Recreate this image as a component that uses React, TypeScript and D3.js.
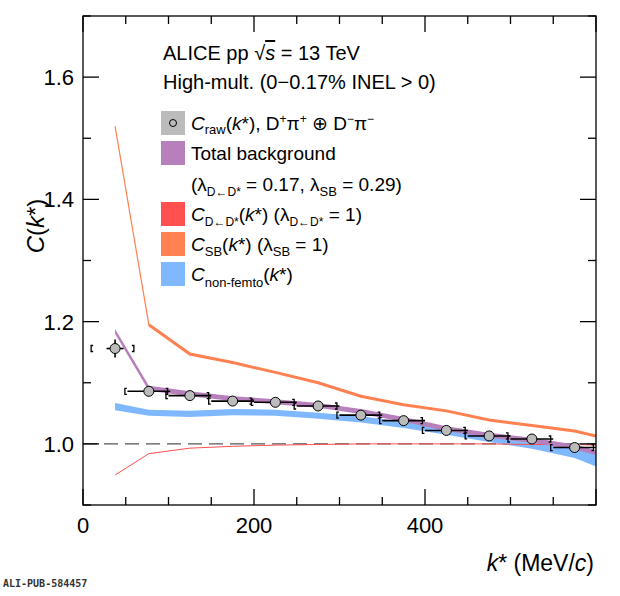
import React from "react";
import * as d3 from "d3";

const kData = [37.5, 77, 125, 175, 225, 275, 325, 375, 425, 475, 525, 575];
const cData = [1.156, 1.086, 1.079, 1.07, 1.068, 1.062, 1.047, 1.038, 1.022, 1.013, 1.008, 0.994];
const kCurve = [37.5, 77, 125, 175, 225, 275, 325, 375, 425, 475, 525, 575, 600];
const totalBkg = [1.184, 1.091, 1.082, 1.074, 1.069, 1.063, 1.053, 1.04, 1.025, 1.014, 1.006, 0.995, 0.986];
const sbCurve = [1.52, 1.195, 1.147, 1.133, 1.117, 1.1, 1.078, 1.064, 1.054, 1.039, 1.03, 1.021, 1.013];
const dstarCurve = [0.949, 0.984, 0.993, 0.996, 0.998, 0.999, 1.0, 1.0, 1.0, 1.0, 0.999, 0.999, 0.998];
const nonFemto = [1.061, 1.051, 1.049, 1.052, 1.051, 1.046, 1.04, 1.031, 1.021, 1.01, 1.0, 0.986, 0.974];
const nonFemtoHalf = [0.006, 0.005, 0.005, 0.005, 0.005, 0.005, 0.005, 0.005, 0.006, 0.007, 0.008, 0.009, 0.011];
const xTicks = [0, 200, 400];
const yTicks = [1.0, 1.2, 1.4, 1.6];

const L = 83, R = 596, T = 16, B = 505;
const font = "Liberation Sans, Arial, sans-serif";

export default function App() {
  const x = d3.scaleLinear().domain([0, 600]).range([L, R]);
  const y = d3.scaleLinear().domain([0.9, 1.7]).range([B, T]);
  const line = d3.line<number>().x((_, i) => x(kCurve[i])).y((v) => y(v));
  const area = d3.area<number>().x((_, i) => x(kCurve[i]))
    .y0((v, i) => y(v - nonFemtoHalf[i])).y1((v, i) => y(v + nonFemtoHalf[i]));
  const purpleArea = d3.area<number>().x((_, i) => x(kCurve[i]))
    .y0((v) => y(v - 0.004)).y1((v) => y(v + 0.004));
  const xMinor = d3.range(0, 601, 50);
  const yMinor = d3.range(0.9, 1.701, 0.1);
  const legend = [
    { c: "#bbbbbb", y: 123 },
    { c: "#b77fbb", y: 153 },
    { c: "#ff5050", y: 214 },
    { c: "#ff8050", y: 244 },
    { c: "#80b8ff", y: 274 },
  ];
  return (
    <svg width={620} height={596} style={{ display: "block", position: "absolute", left: 0, top: 0, background: "#fff" }} fontFamily={font}>
      <defs>
        <clipPath id="cp"><rect x={L} y={T} width={R - L} height={B - T} /></clipPath>
      </defs>
      <g clipPath="url(#cp)">
        <line x1={L} x2={R} y1={y(1)} y2={y(1)} stroke="#555" strokeWidth={1.2} strokeDasharray="14,7" />
        <path d={area(nonFemto) || ""} fill="#80b8ff" />
        <path d={line(dstarCurve) || ""} fill="none" stroke="#ff5050" strokeWidth={1} />
        <path d={line(sbCurve.slice(0, 2)) || ""} fill="none" stroke="#ff8050" strokeWidth={1.2} />
        <path d={d3.line<number>().x((_, i) => x(kCurve[i + 1])).y((v) => y(v))(sbCurve.slice(1)) || ""} fill="none" stroke="#ff8050" strokeWidth={3} />
        <path d={purpleArea(totalBkg) || ""} fill="#b77fbb" />
        {kData.map((k, i) => {
          const cx = x(k), cy = y(cData[i]);
          const bl = x(k - 28), br = x(k + 22);
          return (
            <g key={i} stroke="#000">
              <line x1={x(k - 25 * (i === 0 ? 0.4 : 1))} x2={x(k + 25 * (i === 0 ? 0.4 : 1))} y1={cy} y2={cy} strokeWidth={1.6} />
              {i === 0 && <line x1={cx} x2={cx} y1={cy - 9} y2={cy + 9} strokeWidth={1.6} />}
              <path d={`M${bl + 2},${cy - 3}H${bl}V${cy + 3}H${bl + 2}`} fill="none" strokeWidth={1.3} />
              <path d={`M${br - 2},${cy - 3}H${br}V${cy + 3}H${br - 2}`} fill="none" strokeWidth={1.3} />
              <circle cx={cx} cy={cy} r={5} fill="#bbbbbb" strokeWidth={1} />
            </g>
          );
        })}
      </g>
      <rect x={L} y={T} width={R - L} height={B - T} fill="none" stroke="#000" strokeWidth={1.3} />
      {xMinor.map((v) => {
        const len = v % 200 === 0 ? 16 : 8;
        return (
          <g key={"x" + v} stroke="#000" strokeWidth={1.3}>
            <line x1={x(v)} x2={x(v)} y1={B} y2={B - len} />
            <line x1={x(v)} x2={x(v)} y1={T} y2={T + len} />
          </g>
        );
      })}
      {yMinor.map((v) => {
        const major = Math.abs(Math.round(v * 10) % 2) === 0;
        const len = major ? 16 : 8;
        return (
          <g key={"y" + v} stroke="#000" strokeWidth={1.3}>
            <line x1={L} x2={L + len} y1={y(v)} y2={y(v)} />
            <line x1={R} x2={R - len} y1={y(v)} y2={y(v)} />
          </g>
        );
      })}
      {xTicks.map((v) => (
        <text key={v} x={x(v)} y={533} fontSize={22} textAnchor="middle">{v}</text>
      ))}
      {yTicks.map((v) => (
        <text key={v} x={74} y={y(v) + 8} fontSize={22} textAnchor="end">{v.toFixed(1)}</text>
      ))}
      <text x={594} y={571} fontSize={23} textAnchor="end"><tspan fontStyle="italic">k</tspan>* (MeV/<tspan fontStyle="italic">c</tspan>)</text>
      <text transform="translate(44,226) rotate(-90)" fontSize={24} textAnchor="middle"><tspan fontStyle="italic">C</tspan>(<tspan fontStyle="italic">k</tspan>*)</text>
      <text x={3} y={587} fontSize={10} fontFamily="DejaVu Sans Mono, monospace" fontWeight="bold" fill="#333">ALI-PUB-584457</text>
      <text x={163} y={60} fontSize={20}>ALICE pp <tspan>√</tspan><tspan fontStyle="italic" textDecoration="overline">s</tspan> = 13 TeV</text>
      <text x={163} y={89} fontSize={20}>High-mult. (0−0.17% INEL &gt; 0)</text>
      {legend.map((l, i) => (
        <rect key={i} x={161} y={l.y - 12} width={24} height={24} fill={l.c} />
      ))}
      <circle cx={173} cy={123} r={3.5} fill="none" stroke="#000" strokeWidth={1} />
      <g fontSize={19}>
        <text x={191} y={130}><tspan fontStyle="italic">C</tspan><tspan fontSize={13} dy={4}>raw</tspan><tspan dy={-4}>(</tspan><tspan fontStyle="italic">k</tspan>*), D<tspan fontSize={12} dy={-7}>+</tspan><tspan dy={7}>π</tspan><tspan fontSize={12} dy={-7}>+</tspan><tspan dy={7}> ⊕ D</tspan><tspan fontSize={12} dy={-7}>−</tspan><tspan dy={7}>π</tspan><tspan fontSize={12} dy={-7}>−</tspan></text>
        <text x={191} y={160}>Total background</text>
        <text x={191} y={191}>(λ<tspan fontSize={12} dy={5}>D←D*</tspan><tspan dy={-5}> = 0.17, λ</tspan><tspan fontSize={13} dy={5}>SB</tspan><tspan dy={-5}> = 0.29)</tspan></text>
        <text x={191} y={221}><tspan fontStyle="italic">C</tspan><tspan fontSize={12} dy={5}>D←D*</tspan><tspan dy={-5}>(</tspan><tspan fontStyle="italic">k</tspan>*) (λ<tspan fontSize={12} dy={5}>D←D*</tspan><tspan dy={-5}> = 1)</tspan></text>
        <text x={191} y={251}><tspan fontStyle="italic">C</tspan><tspan fontSize={13} dy={5}>SB</tspan><tspan dy={-5}>(</tspan><tspan fontStyle="italic">k</tspan>*) (λ<tspan fontSize={13} dy={5}>SB</tspan><tspan dy={-5}> = 1)</tspan></text>
        <text x={191} y={281}><tspan fontStyle="italic">C</tspan><tspan fontSize={13} dy={6}>non-femto</tspan><tspan dy={-6}>(</tspan><tspan fontStyle="italic">k</tspan>*)</text>
      </g>
    </svg>
  );
}
